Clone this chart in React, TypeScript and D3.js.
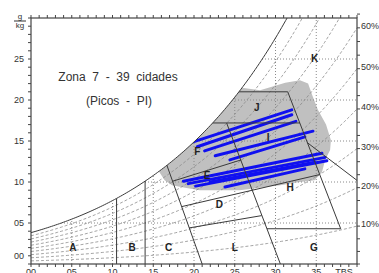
import * as d3 from "d3";

// psychrometric constants (kPa)
const P = 100;
const esat = (t: number) => 0.61078 * Math.exp((17.27 * t) / (t + 237.3));
const wAt = (t: number, rh: number) => {
  const e = rh * esat(t);
  return (622 * e) / (P - e);
};

const tempTicks = [0, 5, 10, 15, 20, 25, 30, 35];
const tempLabels = ["00", "05", "10", "15", "20", "25", "30", "35"];
const humTicks = [0, 5, 10, 15, 20, 25];
const humLabels = ["00", "05", "10", "15", "20", "25"];
const rhCurves = [0.1, 0.2, 0.3, 0.4, 0.5, 0.6, 0.7, 0.8, 0.9];
const rhLabels = [10, 20, 30, 40, 50, 60];

// zone boundaries, [TBS, g/kg]
const zoneSegments: [number, number][][] = [
  [[10.5, 0], [10.5, 10]],
  [[14, 0], [14, 12]],
  [[21.0, 0], [16.4, 12.8]],
  [[17.4, 10.1], [25.8, 12.7]],
  [[24.0, 17.2], [30.6, 0]],
  [[18.5, 7.0], [35.4, 10.9]],
  [[19.4, 4.4], [28.3, 5.9]],
  [[31.5, 21.0], [38.0, 4.3]],
  [[28.95, 4.3], [38.0, 4.3]],
  [[25.0, 21.0], [31.5, 21.0]],
  [[22.0, 17.2], [33.0, 17.2]],
  [[33.9, 14.8], [40, 10.2]],
];

const zoneLetters = ["A", "B", "C", "D", "E", "F", "G", "H", "I", "J", "K", "L"];
const letterT = [5.15, 12.4, 16.9, 23.1, 21.6, 20.4, 34.7, 31.8, 29.1, 27.7, 34.8, 25.0];
const letterW = [2.07, 2.07, 2.07, 7.2, 10.85, 13.7, 2.07, 9.3, 15.4, 19.1, 25.1, 2.07];

// outline of the hourly data cloud
const cloud: [number, number][] = [
  [15.5, 11.6], [17.5, 13.6], [20.0, 16.2], [22.5, 18.8], [25.2, 21.6],
  [28.1, 21.2], [31.2, 22.1], [33.0, 22.4], [34.0, 22.0], [34.5, 20.6],
  [35.2, 18.8], [36.2, 17.0], [36.8, 15.1], [36.7, 13.9], [36.1, 12.7],
  [35.7, 11.2], [34.8, 10.2], [33.0, 10.0], [30.6, 9.6], [28.1, 9.3],
  [25.6, 9.0], [23.2, 9.0], [20.7, 9.0], [18.9, 9.3], [17.3, 9.6], [16.4, 10.2],
];

// city lines
const cityLines: [number, number][][] = [
  [[19.9, 14.9], [32.0, 18.8]],
  [[20.4, 14.3], [32.0, 18.2]],
  [[21.3, 13.8], [32.5, 17.4]],
  [[22.6, 13.2], [34.6, 16.2]],
  [[24.4, 12.7], [33.6, 15.5]],
  [[18.7, 10.1], [35.7, 13.5]],
  [[19.3, 9.8], [36.1, 13.0]],
  [[20.2, 9.5], [36.3, 12.6]],
  [[22.0, 10.0], [34.8, 12.4]],
  [[23.8, 9.4], [33.6, 11.6]],
];

export default function App() {
  const W = 379, H = 273;
  const x = d3.scaleLinear().domain([0, 40]).range([31, 357]);
  const y = d3.scaleLinear().domain([0, 30]).range([264, 18]);
  const line = d3.line<[number, number]>().x((d) => x(d[0])).y((d) => y(d[1]));

  const temps = d3.range(0, 40.01, 0.25);
  const satPts: [number, number][] = temps.map((t) => [t, Math.min(wAt(t, 1), 31)]);
  const belowSat = line([...satPts, [40, 0], [0, 0]] as [number, number][]) + "Z";
  const font = "'Liberation Sans', Arial, sans-serif";

  return (
    <svg width={W} height={H} style={{ position: "absolute", left: 0, top: 0, background: "#fff" }}>
      <defs>
        <clipPath id="plot">
          <rect x={31} y={18} width={326} height={246} />
        </clipPath>
        <clipPath id="sat">
          <path d={belowSat} />
        </clipPath>
      </defs>
      <rect width={W} height={H} fill="#fff" />
      <g clipPath="url(#plot)">
        <g clipPath="url(#sat)">
          <path d={line(cloud) + "Z"} fill="#c0c0c0" />
          {tempTicks.slice(1).map((t) => (
            <line key={"vg" + t} x1={x(t)} x2={x(t)} y1={y(0)} y2={y(30)} stroke="#8a8a8a" strokeDasharray="1,2" />
          ))}
          {humTicks.slice(1).map((w) => (
            <line key={"hg" + w} x1={x(0)} x2={x(40)} y1={y(w)} y2={y(w)} stroke="#8a8a8a" strokeDasharray="1,2" />
          ))}
          {rhCurves.map((rh) => (
            <path key={"rh" + rh} d={line(temps.map((t) => [t, wAt(t, rh)]) as [number, number][])!} fill="none" stroke="#8c8c8c" strokeWidth={0.8} strokeDasharray="3,2" />
          ))}
          {cityLines.map((c, i) => (
            <path key={"c" + i} d={line(c)!} stroke="#1010f0" strokeWidth={3} strokeLinecap="round" fill="none" />
          ))}
          {zoneSegments.map((s, i) => (
            <path key={"z" + i} d={line(s)!} stroke="#3a3a3a" strokeWidth={1} fill="none" />
          ))}
        </g>
        <path d={line(satPts)!} fill="none" stroke="#3a3a3a" strokeWidth={1} />
      </g>
      {zoneLetters.map((l, i) => (
        <text key={l} x={x(letterT[i])} y={y(letterW[i])} textAnchor="middle" dominantBaseline="central" fontFamily={font} fontWeight="bold" fontSize={10} fill="#222">{l}</text>
      ))}
      <text x={118} y={81} textAnchor="middle" fontFamily={font} fontSize={12} fill="#333" style={{ whiteSpace: "pre" }}>{"Zona  7  -  39  cidades"}</text>
      <text x={119} y={105} textAnchor="middle" fontFamily={font} fontSize={12} fill="#333" style={{ whiteSpace: "pre" }}>{"(Picos  -  PI)"}</text>

      {/* frame and ticks */}
      <rect x={31} y={18} width={326} height={246} fill="none" stroke="#444" strokeWidth={1.2} />
      {d3.range(0, 41).map((t) => (
        <g key={"tt" + t}>
          <line x1={x(t)} x2={x(t)} y1={18} y2={15} stroke="#444" />
          <line x1={x(t)} x2={x(t)} y1={264} y2={267} stroke="#444" />
        </g>
      ))}
      {d3.range(0, 31).map((w) => (
        <line key={"wt" + w} x1={31} x2={28} y1={y(w)} y2={y(w)} stroke="#444" />
      ))}
      {d3.range(0, 64, 10 / 3).map((r) => (
        <line key={"rt" + r} x1={357} x2={360} y1={y(wAt(40, r / 100))} y2={y(wAt(40, r / 100))} stroke="#444" />
      ))}
      {humTicks.map((w, i) => (
        <text key={"hl" + w} x={24} y={w === 0 ? y(w) - 8 : y(w)} textAnchor="end" dominantBaseline="central" fontFamily={font} fontSize={9} fill="#333">{humLabels[i]}</text>
      ))}
      {tempTicks.map((t, i) => (
        <text key={"tl" + t} x={x(t)} y={275} textAnchor="middle" fontFamily={font} fontSize={9} fill="#333">{tempLabels[i]}</text>
      ))}
      <text x={344} y={275} textAnchor="middle" fontFamily={font} fontSize={9} fill="#333">TBS</text>
      {rhLabels.map((r) => (
        <text key={"rl" + r} x={361} y={y(wAt(40, r / 100)) - 2} dominantBaseline="central" fontFamily={font} fontSize={9} fill="#333">{r + "%"}</text>
      ))}
      <text x={20} y={19} textAnchor="middle" fontFamily={font} fontSize={8} fill="#333">g</text>
      <line x1={14} x2={26} y1={21} y2={21} stroke="#333" />
      <text x={20} y={28} textAnchor="middle" fontFamily={font} fontSize={8} fill="#333">kg</text>
    </svg>
  );
}
